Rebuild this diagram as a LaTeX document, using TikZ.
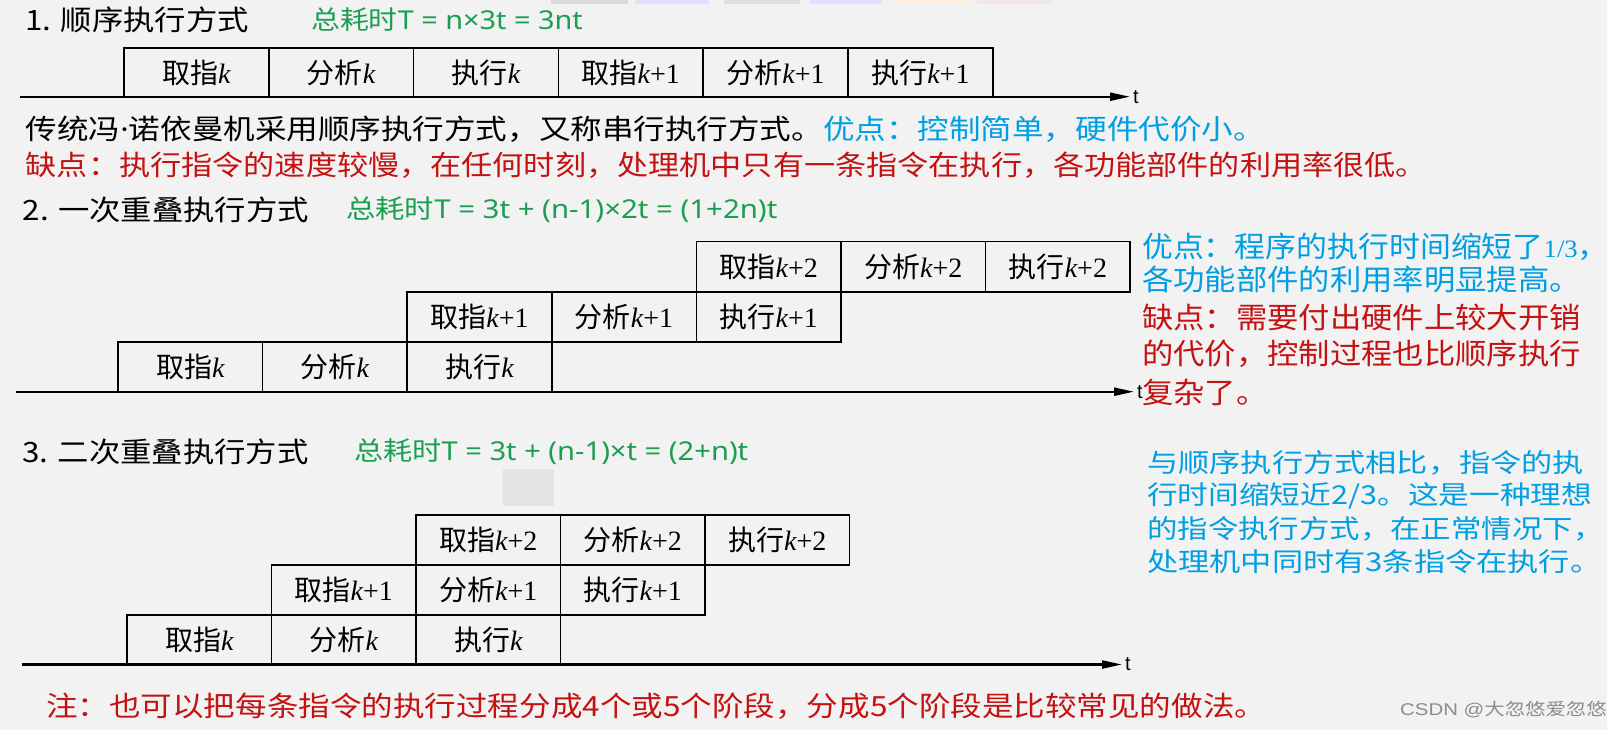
\documentclass[tikz,border=0pt]{standalone}
\usepackage{fontspec}
\setmainfont{Liberation Serif}
\newfontfamily\cjk{Noto Sans CJK SC}
\newfontfamily\notosans{Noto Sans}
\newfontfamily\sansf{Liberation Sans}
\usetikzlibrary{arrows.meta}
\definecolor{bg}{RGB}{242,242,242}
\definecolor{fgreen}{RGB}{28,158,82}
\definecolor{fblue}{RGB}{0,158,226}
\definecolor{fred}{RGB}{196,18,18}
\definecolor{wmark}{RGB}{140,140,140}
\definecolor{blob}{RGB}{228,228,228}
\newcommand\stretchx[1]{\scalebox{1.12}[1]{#1}}
\newcommand\kit{{\rmfamily\itshape k}}
\newcommand\lat[1]{{\rmfamily #1}}
\newcommand\ls[1]{{\fontsize{26}{26}\notosans #1}}
\begin{document}
\begin{tikzpicture}[x=1pt,y=-1pt,
  cell/.style={draw=black, line width=1.6pt, inner sep=0pt, anchor=center, font=\fontsize{28}{28}\cjk},
  c1/.style={cell, minimum width=144.8pt, minimum height=48.4pt},
  c2/.style={cell, minimum width=144.6pt, minimum height=50pt},
  c3/.style={cell, minimum width=144.5pt, minimum height=50pt},
  txt/.style={anchor=west, inner sep=0pt},
  line/.style={txt, font=\fontsize{27.8}{27.8}\cjk},
  title/.style={txt, font=\fontsize{28}{28}\cjk, text=black},
  formula/.style={txt, font=\fontsize{26}{26}\cjk, text=fgreen},
  song/.style={txt, font=\fontsize{29}{29}\cjk},
  yahei/.style={txt, font=\fontsize{26}{26}\cjk, text=fblue},
  axis/.style={line width=2.2pt, -{Triangle[length=20pt,width=8pt]}},
  tlab/.style={anchor=west, inner sep=0pt, font=\fontsize{20}{20}\sansf},
]
\useasboundingbox (0,0) rectangle (1607,730);
\fill[bg] (0,0) rectangle (1607,730);
% faint tabs at the top edge
\fill[gray!30] (551,0) rectangle (628,4);
\fill[blue!12] (635,0) rectangle (709,4);
\fill[gray!25] (724,0) rectangle (800,4);
\fill[blue!12] (810,0) rectangle (882,4);
\fill[orange!12] (893,0) rectangle (967,4);
\fill[violet!10] (977,0) rectangle (1052,4);
% blurred blob
\fill[blob] (503,469) rectangle (554,506);

% ---------- Section 1 ----------
\node[title] (title1) at (25,19.5) {\stretchx{1. 顺序执行方式}};
\node[formula] (form1) at (311,19.5) {\scalebox{1.11}[1]{总耗时\ls{T = n×3t = 3nt}}};
\node[c1] (s1a) at (196.4,72.5) {取指\kit};
\node[c1] (s1b) at (341.2,72.5) {分析\kit};
\node[c1] (s1c) at (486.0,72.5) {执行\kit};
\node[c1] (s1d) at (630.8,72.5) {取指\kit\lat{+1}};
\node[c1] (s1e) at (775.6,72.5) {分析\kit\lat{+1}};
\node[c1] (s1f) at (920.4,72.5) {执行\kit\lat{+1}};
\coordinate (a1s) at (20,96.7);
\coordinate (a1e) at (1130,96.7);
\draw[axis] (a1s) -- (a1e);
\node[tlab] (t1) at ([xshift=3pt]a1e) {t};
\node[line] (l1) at (25.6,129) {\scalebox{1.135}[1]{传统冯{\notosans ·}诺依曼机采用顺序执行方式，又称串行执行方式。\textcolor{fblue}{优点：控制简单，硬件代价小。}}};
\node[line, text=fred] (l2) at (25.6,165) {\stretchx{缺点：执行指令的速度较慢，在任何时刻，处理机中只有一条指令在执行，各功能部件的利用率很低。}};

% ---------- Section 2 ----------
\node[title] (title2) at (22.5,210) {\stretchx{2. 一次重叠执行方式}};
\node[formula] (form2) at (346,210) {\scalebox{1.13}[1]{总耗时\ls{T = 3t + (n-1)×2t = (1+2n)t}}};
\node[c2] (s2k1) at (190.3,366.7) {取指\kit};
\node[c2] (s2k2) at (334.9,366.7) {分析\kit};
\node[c2] (s2k3) at (479.5,366.7) {执行\kit};
\node[c2] (s2m1) at (479.5,316.7) {取指\kit\lat{+1}};
\node[c2] (s2m2) at (624.1,316.7) {分析\kit\lat{+1}};
\node[c2] (s2m3) at (768.7,316.7) {执行\kit\lat{+1}};
\node[c2] (s2t1) at (768.7,266.7) {取指\kit\lat{+2}};
\node[c2] (s2t2) at (913.3,266.7) {分析\kit\lat{+2}};
\node[c2] (s2t3) at (1057.9,266.7) {执行\kit\lat{+2}};
\coordinate (a2s) at (16,391.7);
\coordinate (a2e) at (1134,391.7);
\draw[axis] (a2s) -- (a2e);
\node[tlab] (t2) at ([xshift=3pt]a2e) {t};
\node[song, text=fblue] (r1) at (1142,247) {\scalebox{1.065}[1]{优点：程序的执行时间缩短了{\fontsize{25}{25}\rmfamily 1/3}\rlap{，}}};
\node[song, text=fblue] (r2) at (1142,279) {\scalebox{1.08}[1]{各功能部件的利用率明显提高。}};
\node[song, text=fred] (r3) at (1142,317) {\scalebox{1.08}[1]{缺点：需要付出硬件上较大开销}};
\node[song, text=fred] (r4) at (1142,354) {\scalebox{1.08}[1]{的代价，控制过程也比顺序执行}};
\node[song, text=fred] (r5) at (1142,392) {\scalebox{1.08}[1]{复杂了。}};

% ---------- Section 3 ----------
\node[title] (title3) at (22,452) {\stretchx{3. 二次重叠执行方式}};
\node[formula] (form3) at (354,452) {\scalebox{1.12}[1]{总耗时\ls{T = 3t + (n-1)×t = (2+n)t}}};
\node[c3] (s3k1) at (199.25,640) {取指\kit};
\node[c3] (s3k2) at (343.75,640) {分析\kit};
\node[c3] (s3k3) at (488.25,640) {执行\kit};
\node[c3] (s3m1) at (343.75,590) {取指\kit\lat{+1}};
\node[c3] (s3m2) at (488.25,590) {分析\kit\lat{+1}};
\node[c3] (s3m3) at (632.75,590) {执行\kit\lat{+1}};
\node[c3] (s3t1) at (488.25,540) {取指\kit\lat{+2}};
\node[c3] (s3t2) at (632.75,540) {分析\kit\lat{+2}};
\node[c3] (s3t3) at (777.25,540) {执行\kit\lat{+2}};
\coordinate (a3s) at (22,664.5);
\coordinate (a3e) at (1122,664.5);
\draw[axis] (a3s) -- (a3e);
\node[tlab] (t3) at ([xshift=3pt]a3e) {t};
\node[yahei] (b1) at (1147,463) {\scalebox{1.2}[1]{与顺序执行方式相比，指令的执}};
\node[yahei] (b2) at (1147,496) {\scalebox{1.18}[1]{行时间缩短近2/3。这是一种理想}};
\node[yahei] (b3) at (1147,529) {\scalebox{1.17}[1]{的指令执行方式，在正常情况下\rlap{，}}};
\node[yahei] (b4) at (1147,562) {\scalebox{1.2}[1]{处理机中同时有3条指令在执行。}};

% ---------- Note ----------
\node[line, text=fred] (note) at (46,706) {\scalebox{1.135}[1]{注：也可以把每条指令的执行过程分成4个或5个阶段，分成5个阶段是比较常见的做法。}};
\node[txt, font=\fontsize{17}{17}\cjk, text=wmark] (wm) at (1400,710) {\scalebox{1.2}[1]{{\sansf CSDN @}大忽悠爱忽悠}};
\end{tikzpicture}
\end{document}
